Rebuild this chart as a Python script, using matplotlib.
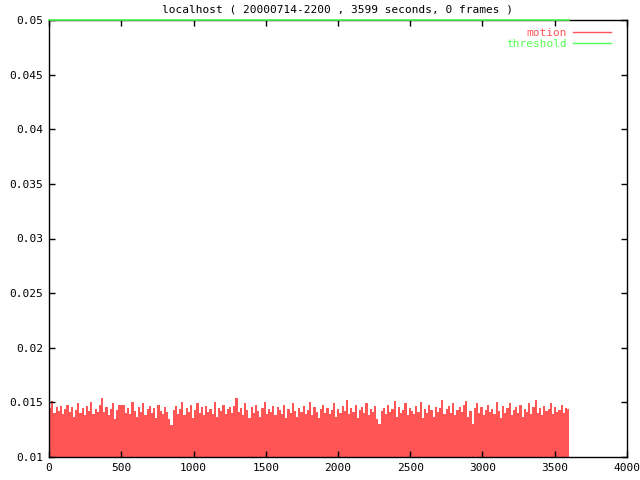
import numpy as np
import matplotlib
matplotlib.use("Agg")
import matplotlib.pyplot as plt
from matplotlib.lines import Line2D
from matplotlib.ticker import MultipleLocator, FormatStrFormatter

# ---- data (one sample per 15 seconds) ----
step = 15
motion = [
    0.0145, 0.0151, 0.0140, 0.0146, 0.0142, 0.0147, 0.0139, 0.0144, 0.0148, 0.0141, 0.0146, 0.0137,
    0.0143, 0.0149, 0.0140, 0.0145, 0.0138, 0.0147, 0.0142, 0.0150, 0.0139, 0.0144, 0.0141, 0.0148,
    0.0154, 0.0141, 0.0146, 0.0138, 0.0144, 0.0149, 0.0135, 0.0143, 0.0148, 0.0148, 0.0148, 0.0140,
    0.0145, 0.0139, 0.0150, 0.0142, 0.0137, 0.0146, 0.0141, 0.0149, 0.0138, 0.0144, 0.0147, 0.0140,
    0.0145, 0.0136, 0.0148, 0.0142, 0.0139, 0.0146, 0.0141, 0.0135, 0.0129, 0.0143, 0.0147, 0.0139,
    0.0144, 0.0150, 0.0138, 0.0145, 0.0141, 0.0148, 0.0136, 0.0143, 0.0149, 0.0140, 0.0146, 0.0138,
    0.0147, 0.0141, 0.0144, 0.0139, 0.0150, 0.0137, 0.0145, 0.0142, 0.0148, 0.0139, 0.0144, 0.0146,
    0.0140, 0.0147, 0.0154, 0.0141, 0.0145, 0.0138, 0.0149, 0.0143, 0.0136, 0.0146, 0.0140, 0.0148,
    0.0142, 0.0137, 0.0145, 0.0150, 0.0139, 0.0144, 0.0141, 0.0147, 0.0138, 0.0146, 0.0143, 0.0139,
    0.0148, 0.0136, 0.0144, 0.0140, 0.0149, 0.0142, 0.0137, 0.0145, 0.0141, 0.0147, 0.0139, 0.0143,
    0.0150, 0.0138, 0.0146, 0.0141, 0.0136, 0.0144, 0.0148, 0.0140, 0.0145, 0.0139, 0.0143, 0.0149,
    0.0137, 0.0144, 0.0140, 0.0147, 0.0142, 0.0152, 0.0139, 0.0145, 0.0141, 0.0148, 0.0136, 0.0143,
    0.0146, 0.0140, 0.0149, 0.0138, 0.0144, 0.0141, 0.0147, 0.0135, 0.0130, 0.0142, 0.0145, 0.0139,
    0.0148, 0.0141, 0.0144, 0.0151, 0.0137, 0.0146, 0.0140, 0.0143, 0.0149, 0.0138, 0.0145, 0.0142,
    0.0139, 0.0147, 0.0141, 0.0150, 0.0136, 0.0144, 0.0140, 0.0148, 0.0143, 0.0137, 0.0146, 0.0141,
    0.0145, 0.0152, 0.0139, 0.0144, 0.0147, 0.0140, 0.0149, 0.0138, 0.0143, 0.0146, 0.0141, 0.0148,
    0.0151, 0.0137, 0.0142, 0.0130, 0.0145, 0.0149, 0.0140, 0.0146, 0.0138, 0.0143, 0.0148, 0.0141,
    0.0144, 0.0139, 0.0150, 0.0142, 0.0136, 0.0147, 0.0140, 0.0145, 0.0149, 0.0138, 0.0143, 0.0146,
    0.0140, 0.0148, 0.0137, 0.0144, 0.0141, 0.0149, 0.0139, 0.0146, 0.0152, 0.0140, 0.0145, 0.0138,
    0.0147, 0.0142, 0.0144, 0.0149, 0.0139, 0.0146, 0.0141, 0.0143, 0.0148, 0.0140, 0.0145, 0.0144,
]
times = np.arange(len(motion)) * step
threshold = 0.05
duration = 3599
title = "localhost ( 20000714-2200 , 3599 seconds, 0 frames )"

red = "#ff5555"
green = "#55ff55"
font = "DejaVu Sans Mono"

fig = plt.figure(figsize=(6.4, 4.8), dpi=100)
ax = fig.add_axes([49 / 640, 1 - 457 / 480, 578 / 640, 437 / 480])

ax.bar(times, motion, width=step, align="edge", color=red,
       linewidth=0, antialiased=False)
ax.plot([0, duration], [threshold, threshold], color=green, linewidth=1.2,
        clip_on=False, zorder=5)

ax.set_xlim(0, 4000)
ax.set_ylim(0.01, 0.05)
ax.xaxis.set_major_locator(MultipleLocator(500))
ax.yaxis.set_major_locator(MultipleLocator(0.005))
ax.yaxis.set_major_formatter(FormatStrFormatter("%g"))
ax.tick_params(direction="in", top=True, right=True, length=4, width=1,
               labelsize=8, pad=4)
for lab in ax.get_xticklabels() + ax.get_yticklabels():
    lab.set_family(font)
for sp in ax.spines.values():
    sp.set_linewidth(1)

handles = [Line2D([], [], color=red, linewidth=1),
           Line2D([], [], color=green, linewidth=1)]
leg = ax.legend(handles, ["motion", "threshold"], loc="upper right",
                frameon=False, markerfirst=False,
                prop={"family": font, "size": 8},
                handlelength=3.4, handletextpad=0.5, labelspacing=0.1,
                borderaxespad=0.3, bbox_to_anchor=(0.985, 1.0))
for t, c in zip(leg.get_texts(), [red, green]):
    t.set_color(c)

fig.text(338 / 640, 1 - 10 / 480, title, ha="center", va="center",
         family=font, fontsize=8)

fig.savefig("out.png", dpi=100)
